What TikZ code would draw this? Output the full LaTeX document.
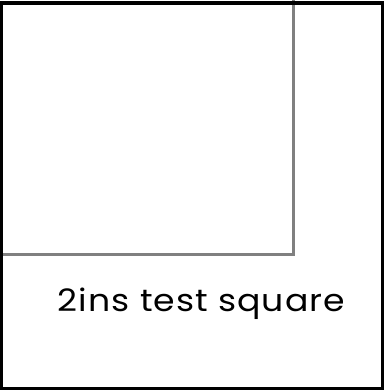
\documentclass[tikz,border=0pt]{standalone}
\usepackage{fontspec}
\setmainfont{Poppins}

\begin{document}
\begin{tikzpicture}[
  x=0.01cm, y=-0.01cm,
  frame/.style={draw=black, line width=3.2pt*0.01/0.03514},
  inner/.style={draw=gray, line width=3pt*0.01/0.03514},
  caption/.style={font=\fontsize{8.8}{10}\selectfont\addfontfeature{LetterSpace=3},
    inner sep=0pt, anchor=base, xscale=1.12}
]

% page size and clipping
\useasboundingbox (0,0) rectangle (384,390);
\clip (0,0) rectangle (384,390);

% -------------------------
% GREY SQUARE (behind)
% -------------------------
\draw[inner] (-20,-20) rectangle (294,254.5);

% -------------------------
% OUTER FRAME
% -------------------------
\draw[frame] (1.3,3) rectangle (382.6,388.4);

% label
\node[caption] (label) at (201.5,311.5) {2ins test square};

\end{tikzpicture}
\end{document}
